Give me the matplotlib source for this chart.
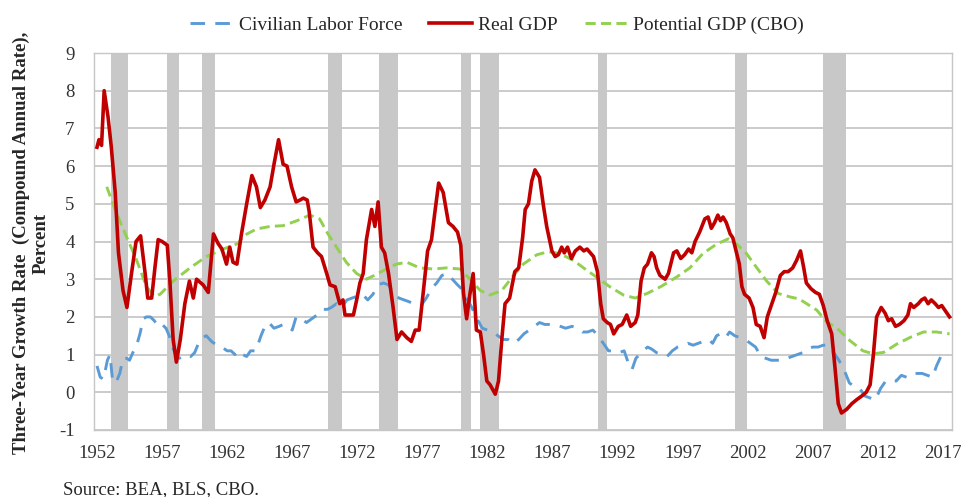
import matplotlib
matplotlib.use("Agg")
import matplotlib.pyplot as plt

# ---------------- data ----------------
gdp_years = [1952.0, 1952.15, 1952.35, 1952.55, 1952.85, 1953.1, 1953.4, 1953.65, 1954.0, 1954.3,
             1954.65, 1955.0, 1955.35, 1955.7, 1955.9, 1956.2, 1956.45, 1956.7, 1957.0, 1957.4,
             1957.6, 1957.85, 1958.1, 1958.4, 1958.75, 1959.1, 1959.4, 1959.65, 1960.15, 1960.55,
             1960.95, 1961.3, 1961.6, 1961.95, 1962.2, 1962.45, 1962.75, 1963.1, 1963.5, 1963.9,
             1964.25, 1964.55, 1964.9, 1965.3, 1965.6, 1965.95, 1966.3, 1966.6, 1966.95, 1967.3,
             1967.6, 1967.85, 1968.15, 1968.3, 1968.6, 1968.95, 1969.25, 1969.65, 1969.9, 1970.3,
             1970.65, 1970.9, 1971.05, 1971.7, 1971.95, 1972.2, 1972.45, 1972.7, 1973.1, 1973.35,
             1973.6, 1973.85, 1974.1, 1974.4, 1974.75, 1975.05, 1975.4, 1975.8, 1976.15, 1976.45,
             1976.75, 1977.05, 1977.4, 1977.7, 1977.95, 1978.25, 1978.6, 1979.0, 1979.35, 1979.7,
             1979.95, 1980.15, 1980.4, 1980.65, 1980.9, 1981.15, 1981.45, 1981.7, 1981.95, 1982.2,
             1982.6, 1982.85, 1983.1, 1983.35, 1983.7, 1984.1, 1984.4, 1984.7, 1984.9, 1985.15,
             1985.4, 1985.65, 1986.0, 1986.3, 1986.55, 1986.95, 1987.2, 1987.45, 1987.7, 1987.9,
             1988.15, 1988.45, 1988.75, 1989.1, 1989.4, 1989.65, 1989.9, 1990.15, 1990.45, 1990.7,
             1990.9, 1991.2, 1991.45, 1991.7, 1992.05, 1992.35, 1992.7, 1993.0, 1993.35, 1993.55,
             1993.8, 1994.05, 1994.3, 1994.6, 1994.8, 1995.0, 1995.25, 1995.65, 1995.9, 1996.3,
             1996.55, 1996.85, 1997.15, 1997.45, 1997.7, 1997.95, 1998.3, 1998.7, 1998.95, 1999.2,
             1999.45, 1999.7, 1999.9, 2000.1, 2000.35, 2000.65, 2000.85, 2001.1, 2001.35, 2001.55,
             2001.75, 2002.1, 2002.4, 2002.65, 2002.95, 2003.25, 2003.5, 2003.85, 2004.15, 2004.5,
             2004.8, 2005.1, 2005.45, 2005.75, 2006.05, 2006.3, 2006.5, 2006.85, 2007.2, 2007.5,
             2007.8, 2008.1, 2008.45, 2008.7, 2008.95, 2009.2, 2009.6, 2010.0, 2010.35, 2010.75,
             2011.1, 2011.4, 2011.65, 2011.9, 2012.25, 2012.55, 2012.8, 2013.05, 2013.35, 2013.65,
             2014.0, 2014.3, 2014.5, 2014.75, 2015.1, 2015.35, 2015.6, 2015.85, 2016.1, 2016.4,
             2016.65, 2016.9, 2017.2, 2017.5]
gdp_values = [6.5, 6.7, 6.55, 8.0, 7.3, 6.5, 5.3, 3.7, 2.7, 2.25,
              3.15, 4.0, 4.15, 3.15, 2.5, 2.5, 3.3, 4.05, 4.0, 3.9,
              2.95, 1.4, 0.8, 1.4, 2.35, 2.95, 2.5, 3.0, 2.85, 2.65,
              4.2, 3.95, 3.8, 3.4, 3.85, 3.45, 3.4, 4.2, 5.0, 5.75,
              5.45, 4.9, 5.1, 5.45, 6.05, 6.7, 6.05, 6.0, 5.45, 5.05,
              5.1, 5.15, 5.1, 4.8, 3.85, 3.7, 3.6, 3.15, 2.85, 2.8,
              2.35, 2.45, 2.05, 2.05, 2.45, 2.9, 3.15, 4.05, 4.85, 4.4,
              5.05, 3.85, 3.7, 3.15, 2.25, 1.4, 1.6, 1.45, 1.35, 1.65,
              1.65, 2.6, 3.75, 4.05, 4.75, 5.55, 5.3, 4.5, 4.4, 4.25,
              3.9, 2.65, 1.95, 2.6, 3.15, 1.65, 1.6, 1.0, 0.3, 0.2,
              -0.05, 0.3, 1.4, 2.35, 2.5, 3.2, 3.3, 4.1, 4.85, 5.0,
              5.6, 5.9, 5.7, 4.95, 4.4, 3.75, 3.6, 3.65, 3.85, 3.7,
              3.85, 3.55, 3.75, 3.85, 3.75, 3.8, 3.7, 3.6, 3.2, 2.35,
              1.95, 1.85, 1.8, 1.55, 1.75, 1.8, 2.05, 1.75, 1.85, 2.05,
              2.95, 3.3, 3.4, 3.7, 3.6, 3.3, 3.1, 3.0, 3.15, 3.7,
              3.75, 3.55, 3.65, 3.8, 3.7, 4.0, 4.25, 4.6, 4.65, 4.35,
              4.5, 4.7, 4.55, 4.65, 4.5, 4.2, 4.1, 3.75, 3.4, 2.8,
              2.6, 2.5, 2.25, 1.8, 1.75, 1.45, 2.0, 2.35, 2.65, 3.1,
              3.2, 3.2, 3.3, 3.5, 3.75, 3.3, 2.9, 2.75, 2.65, 2.6,
              2.3, 1.9, 1.55, 0.65, -0.3, -0.55, -0.45, -0.3, -0.2, -0.1,
              0.0, 0.2, 1.0, 2.0, 2.25, 2.1, 1.9, 1.95, 1.75, 1.8,
              1.9, 2.05, 2.35, 2.25, 2.35, 2.45, 2.5, 2.35, 2.45, 2.35,
              2.25, 2.3, 2.15, 2.0]

pot_years = [1952.75, 1953.5, 1954.3, 1955.05, 1955.8, 1956.4, 1956.85, 1957.85, 1959.15, 1960.4,
             1961.7, 1962.85, 1963.25, 1964.25, 1965.3, 1966.3, 1967.35, 1968.35, 1969.1, 1969.75,
             1970.4, 1971.15, 1971.95, 1972.7, 1973.3, 1974.0, 1975.0, 1975.8, 1976.8, 1977.85,
             1978.85, 1979.9, 1980.65, 1981.45, 1982.2, 1983.1, 1984.0, 1984.75, 1985.8, 1986.7,
             1987.55, 1988.6, 1989.5, 1990.4, 1991.4, 1992.45, 1993.35, 1994.25, 1995.3, 1996.5,
             1997.55, 1998.55, 1999.6, 2000.5, 2001.15, 2001.9, 2002.7, 2003.45, 2004.35, 2005.25,
             2005.9, 2006.3, 2007.3, 2008.05, 2008.85, 2009.85, 2010.85, 2011.65, 2012.45, 2013.45,
             2014.5, 2015.5, 2016.5, 2017.5]
pot_values = [5.45, 4.75, 4.1, 3.5, 2.8, 2.55, 2.6, 2.95, 3.3, 3.6,
              3.8, 3.95, 4.15, 4.33, 4.4, 4.42, 4.55, 4.7, 4.6, 4.2,
              3.85, 3.45, 3.15, 3.0, 3.1, 3.23, 3.4, 3.45, 3.3, 3.27,
              3.3, 3.27, 3.0, 2.7, 2.58, 2.7, 3.1, 3.4, 3.65, 3.73,
              3.68, 3.5, 3.27, 3.05, 2.8, 2.58, 2.5, 2.62, 2.8, 3.05,
              3.3, 3.68, 3.93, 4.07, 3.93, 3.68, 3.3, 2.95, 2.62, 2.53,
              2.48, 2.4, 2.18, 1.87, 1.7, 1.37, 1.1, 1.02, 1.06, 1.28,
              1.46, 1.6, 1.6, 1.55]

clf_years = [1952.0, 1952.25, 1952.5, 1952.8, 1953.0, 1953.2, 1953.45, 1953.75, 1954.0, 1954.3,
             1954.5, 1954.75, 1955.05, 1955.3, 1955.55, 1955.8, 1956.1, 1956.4, 1956.7, 1957.0,
             1957.3, 1957.55, 1957.8, 1958.05, 1958.3, 1958.6, 1958.9, 1959.2, 1959.5, 1959.8,
             1960.1, 1960.4, 1960.8, 1961.2, 1961.6, 1962.0, 1962.3, 1962.6, 1962.9, 1963.2,
             1963.5, 1963.8, 1964.2, 1964.6, 1964.9, 1965.2, 1965.6, 1966.0, 1966.3, 1966.7,
             1967.0, 1967.3, 1967.7, 1968.1, 1968.5, 1968.9, 1969.3, 1969.7, 1970.0, 1970.4,
             1970.8, 1971.2, 1971.6, 1972.0, 1972.4, 1972.8, 1973.2, 1973.6, 1974.0, 1974.4,
             1974.8, 1975.2, 1975.6, 1976.0, 1976.5, 1976.9, 1977.3, 1977.7, 1978.1, 1978.5,
             1978.9, 1979.3, 1979.7, 1980.0, 1980.4, 1980.8, 1981.2, 1981.6, 1982.0, 1982.4,
             1982.8, 1983.2, 1983.6, 1984.0, 1984.4, 1984.8, 1985.2, 1985.6, 1986.0, 1986.4,
             1986.8, 1987.2, 1987.6, 1988.0, 1988.5, 1988.9, 1989.3, 1989.7, 1990.1, 1990.5,
             1990.9, 1991.3, 1991.7, 1992.1, 1992.5, 1992.8, 1993.1, 1993.4, 1993.8, 1994.3,
             1994.6, 1995.0, 1995.4, 1995.8, 1996.2, 1996.6, 1997.0, 1997.4, 1997.8, 1998.2,
             1998.6, 1999.0, 1999.3, 1999.6, 1999.9, 2000.3, 2000.6, 2001.0, 2001.4, 2001.8,
             2002.2, 2002.6, 2003.0, 2003.4, 2003.8, 2004.2, 2004.6, 2005.0, 2005.4, 2005.8,
             2006.2, 2006.6, 2007.0, 2007.4, 2007.8, 2008.2, 2008.6, 2009.0, 2009.4, 2009.8,
             2010.2, 2010.6, 2011.0, 2011.4, 2011.8, 2012.2, 2012.6, 2013.0, 2013.4, 2013.8,
             2014.2, 2014.6, 2015.0, 2015.4, 2015.8, 2016.2, 2016.5, 2016.9, 2017.1]
clf_values = [0.7, 0.4, 0.35, 0.85, 1.0, 0.3, 0.25, 0.5, 0.9, 0.9,
              0.85, 1.05, 1.25, 1.55, 1.95, 2.0, 2.0, 1.9, 1.75, 1.8,
              1.7, 1.5, 1.2, 1.0, 0.9, 0.95, 1.0, 0.95, 1.05, 1.3,
              1.45, 1.5, 1.35, 1.25, 1.2, 1.1, 1.1, 1.0, 1.1, 1.0,
              0.95, 1.1, 1.1, 1.5, 1.75, 1.85, 1.7, 1.75, 1.8, 1.75,
              1.65, 2.0, 1.95, 1.85, 1.95, 2.05, 2.2, 2.2, 2.25, 2.35,
              2.25, 2.45, 2.5, 2.55, 2.6, 2.45, 2.6, 2.85, 2.9, 2.85,
              2.6, 2.5, 2.45, 2.4, 2.3, 2.3, 2.5, 2.75, 2.9, 3.1,
              3.15, 3.0, 2.85, 2.75, 2.5, 2.25, 1.95, 1.7, 1.65, 1.6,
              1.5, 1.4, 1.4, 1.3, 1.4, 1.55, 1.65, 1.75, 1.85, 1.8,
              1.8, 1.8, 1.75, 1.7, 1.75, 1.7, 1.6, 1.6, 1.65, 1.5,
              1.3, 1.1, 1.1, 1.05, 1.1, 0.8, 0.6, 0.9, 1.05, 1.2,
              1.15, 1.05, 1.0, 0.95, 1.1, 1.2, 1.25, 1.3, 1.25, 1.3,
              1.35, 1.4, 1.3, 1.5, 1.55, 1.45, 1.6, 1.5, 1.45, 1.4,
              1.3, 1.2, 0.95, 0.9, 0.85, 0.85, 0.85, 0.9, 0.95, 1.0,
              1.05, 1.15, 1.2, 1.2, 1.25, 1.25, 1.05, 0.85, 0.6, 0.25,
              0.15, 0.1, -0.1, -0.15, -0.2, 0.1, 0.3, 0.3, 0.3, 0.45,
              0.4, 0.5, 0.5, 0.5, 0.45, 0.4, 0.7, 1.0, 1.15]

recession_starts = [1953.1, 1957.4, 1960.1, 1969.75, 1973.7, 1980.0, 1981.4, 1990.5, 2001.0, 2007.8]
recession_ends = [1954.38, 1958.3, 1961.1, 1970.8, 1975.1, 1980.7, 1982.9, 1991.2, 2001.95, 2009.55]

year_ticks = [1952, 1957, 1962, 1967, 1972, 1977, 1982, 1987, 1992, 1997, 2002, 2007, 2012, 2017]
y_ticks = [-1, 0, 1, 2, 3, 4, 5, 6, 7, 8, 9]

# ---------------- figure ----------------
plt.rcParams['font.family'] = ['Liberation Serif', 'DejaVu Serif']
plt.rcParams['axes.unicode_minus'] = False

fig = plt.figure(figsize=(9.64, 4.97), dpi=100)
ax = fig.add_axes([94 / 964, 1 - 430 / 497, (952 - 94) / 964, (430 - 53) / 497])

for s, e in zip(recession_starts, recession_ends):
    ax.axvspan(s, e, color='#c8c8c8', lw=0, zorder=1)

ax.set_ylim(-1, 9)
ax.set_xlim(1951.77, 2017.69)
ax.set_yticks(y_ticks)
ax.set_yticklabels([str(v) for v in y_ticks])
ax.set_xticks(year_ticks)
ax.set_xticklabels([str(y) for y in year_ticks])
ax.yaxis.grid(True, color='#bdbdbd', lw=1.1, zorder=0)
ax.set_axisbelow(True)
for sp in ax.spines.values():
    sp.set_color('#c6c6c6')
    sp.set_linewidth(1.0)
ax.tick_params(axis='both', length=0, labelsize=13.5, colors='#333333')
ax.tick_params(axis='x', pad=11)
ax.tick_params(axis='y', pad=14)

l_clf, = ax.plot(clf_years, clf_values, color='#5b9bd5', lw=2.1,
                 dashes=(5, 3.5), zorder=3, label='Civilian Labor Force')
l_gdp, = ax.plot(gdp_years, gdp_values, color='#c00000', lw=2.6,
                 zorder=4, label='Real GDP', solid_joinstyle='round')
l_pot, = ax.plot(pot_years, pot_values, color='#92d050', lw=2.1,
                 dashes=(3.5, 1.8), zorder=3, label='Potential GDP (CBO)')

fig.legend(handles=[l_clf, l_gdp, l_pot], loc='center', ncol=3,
           bbox_to_anchor=(497 / 964, 1 - 25 / 497), frameon=False,
           fontsize=14, handlelength=2.2, handletextpad=0.3, columnspacing=1.4,
           labelcolor='#262626')

fig.text(31 / 964, 1 - 243 / 497,
         'Three-Year Growth Rate  (Compound Annual Rate),\nPercent',
         rotation=90, ha='center', va='center', multialignment='center',
         fontsize=13.5, fontweight='bold', color='#262626', linespacing=1.2)

fig.text(63 / 964, 1 - 490 / 497, 'Source: BEA, BLS, CBO.',
         ha='left', va='center', fontsize=13.5, color='#262626')

fig.savefig('out.png', dpi=100)
